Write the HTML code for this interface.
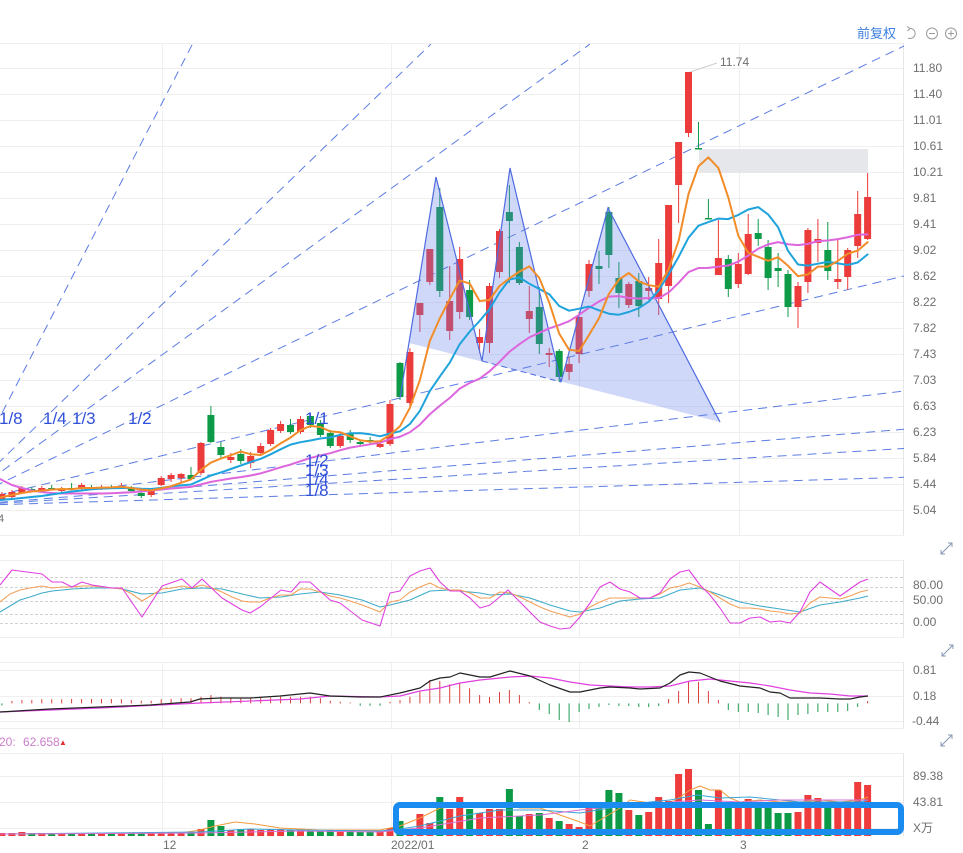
<!DOCTYPE html>
<html><head><meta charset="utf-8"><style>
html,body{margin:0;padding:0;background:#fff;}
svg{display:block;font-family:"Liberation Sans","Noto Sans CJK SC",sans-serif;}
</style></head><body>
<svg width="963" height="853" viewBox="0 0 963 853" xmlns="http://www.w3.org/2000/svg">
<defs>
<clipPath id="cm"><rect x="0" y="44" width="904" height="491"/></clipPath>
<clipPath id="cp"><rect x="0" y="0" width="904" height="853"/></clipPath>
</defs>
<rect width="963" height="853" fill="#fff"/>

<!-- top toolbar -->
<text x="857" y="38" font-size="13" fill="#3d7fe0">前复权</text>
<path d="M910 28.5 A5 5 0 1 1 908 38" stroke="#9a9a9a" fill="none" stroke-width="1"/>
<path d="M910 28.5 l-3 -2 M910 28.5 l-2.5 2.5" stroke="#9a9a9a" fill="none"/>
<circle cx="932" cy="33.5" r="5.5" stroke="#9a9a9a" fill="none"/><path d="M929 33.5h6" stroke="#9a9a9a"/>
<circle cx="951" cy="33.5" r="5.5" stroke="#9a9a9a" fill="none"/><path d="M948 33.5h6M951 30.5v6" stroke="#9a9a9a"/>

<!-- main grid -->
<g stroke="#efefef" stroke-width="1" fill="none">
<path d="M0 43.5H904M0 68.5H904M0 94.5H904M0 120.5H904M0 146.5H904M0 172.5H904M0 198.5H904M0 224.5H904M0 250.5H904M0 276.5H904M0 302.5H904M0 328.5H904M0 354.5H904M0 380.5H904M0 406.5H904M0 432.5H904M0 458.5H904M0 484.5H904M0 510.5H904M0 535.5H904"/>
<path d="M162.5 43V535M391.5 43V535M579.5 43V535M739.5 43V535"/>
<path d="M0 560.5H904M0 637.5H904M162.5 560V637M391.5 560V637M579.5 560V637M739.5 560V637"/>
<path d="M0 662.5H904M0 670.5H904M0 696.5H904M0 721.5H904M0 728.5H904M162.5 662V728M391.5 662V728M579.5 662V728M739.5 662V728"/>
<path d="M0 753.5H904M0 776.5H904M0 802.5H904M0 828.5H904M162.5 753V836M391.5 753V836M579.5 753V836M739.5 753V836"/>
</g>
<g stroke="#d2d2d2" stroke-dasharray="3,2" fill="none">
<path d="M0 577.5H904M0 587.5H904M0 601.5H904M0 614.5H904M0 623.5H904"/>
</g>
<path d="M903.5 43V535M903.5 560V637M903.5 662V728M903.5 753V836" stroke="#e6e6e6"/>

<!-- main y labels -->
<g font-size="12" fill="#6e6e6e">
<text x="913" y="72">11.80</text><text x="913" y="98">11.40</text><text x="913" y="124">11.01</text><text x="913" y="150">10.61</text><text x="913" y="176">10.21</text><text x="913" y="202">9.81</text><text x="913" y="228">9.41</text><text x="913" y="254">9.02</text><text x="913" y="280">8.62</text><text x="913" y="306">8.22</text><text x="913" y="332">7.82</text><text x="913" y="358">7.43</text><text x="913" y="384">7.03</text><text x="913" y="410">6.63</text><text x="913" y="436">6.23</text><text x="913" y="462">5.84</text><text x="913" y="488">5.44</text><text x="913" y="514">5.04</text>
<text x="913" y="589">80.00</text><text x="913" y="604">50.00</text><text x="913" y="626">0.00</text>
<text x="913" y="674">0.81</text><text x="913" y="700">0.18</text><text x="912" y="725">-0.44</text>
<text x="913" y="780">89.38</text><text x="913" y="806">43.81</text><text x="913" y="832">X万</text>
<text x="163" y="849">12</text><text x="391" y="849">2022/01</text><text x="582" y="849">2</text><text x="740" y="849">3</text>
<text x="720" y="66">11.74</text>
<text x="-2" y="522" font-size="11">4</text>
</g>
<path d="M690 72 L717 63" stroke="#cfcfcf"/>

<!-- expand icons -->
<g stroke="#8797b3" fill="none" stroke-width="1">
<path d="M941 554L952 543M948 543h4v4M941 550v4h4"/>
<path d="M942 656L953 645M949 645h4v4M942 652v4h4"/>
<path d="M941 746L952 735M948 735h4v4M941 742v4h4"/>
</g>

<g clip-path="url(#cm)">
<!-- gann fan -->
<g stroke="#4a6ee0" stroke-width="1" stroke-dasharray="9,6" fill="none" opacity="0.9">
<path d="M-46 506L192.5 44"/>
<path d="M-46 506L431 44"/>
<path d="M-46 506L590 44"/>
<path d="M-46 506L904 46"/>
<path d="M-46 506L904 276"/>
<path d="M-46 506L904 391"/>
<path d="M-46 506L904 429.3"/>
<path d="M-46 506L904 448.5"/>
<path d="M-46 506L904 477.3"/>
</g>

<!-- gray rect -->
<rect x="699" y="149" width="169" height="24" fill="#e5e7eb"/>

<!-- candles red -->
<path fill="none" stroke="#eb3b3b" stroke-width="1" d="M1.9 492V500M11.9 490V498M21.9 486V494M41.8 486V491M61.7 487V492M81.6 483V490M101.5 485V490M121.4 483V489M151.2 489V497M161.2 476V486M171.1 473V482M181.1 473V482M201 442V475M230.8 453V463M250.7 452V468M260.7 443V456M270.6 428V446M280.6 421V433M300.5 416V434M340.3 433V448M380.1 443V448M390 400V446M409.9 348V406M419.9 303V332M429.8 249V285M449.7 266V340M459.7 247V319M479.6 329V353M489.5 283V353M499.5 229V278M529.3 286V333M549.2 348V367M569.1 357V380M579.1 312V363M589 260V297M628.8 282V308M648.7 277V300M658.7 239V315M668.6 205V303M678.6 142V223M688.5 72V137M718.4 220V275M738.3 253V288M748.2 214V275M798 282V328M807.9 228V293M817.9 219V262M837.8 240V289M847.7 248V290M857.7 191V258M867.6 173V240"/>
<path fill="#eb3b3b" d="M-1.6 494h7v5h-7zM8.4 492h7v5h-7zM18.4 488h7v5h-7zM38.3 488h7v2h-7zM58.2 489h7v2h-7zM78.1 485h7v3h-7zM98 487h7v2h-7zM117.9 486h7v2h-7zM147.7 491h7v4h-7zM157.7 478h7v7h-7zM167.6 475h7v4h-7zM177.6 474h7v4h-7zM197.5 443h7v30h-7zM227.3 457h7v3h-7zM247.2 456h7v7h-7zM257.2 446h7v7h-7zM267.1 430h7v14h-7zM277.1 424h7v7h-7zM297 419h7v13h-7zM336.8 436h7v10h-7zM376.6 444h7v3h-7zM386.5 404h7v40h-7zM406.4 352h7v51h-7zM416.4 303h7v12h-7zM426.3 249h7v33h-7zM446.2 301h7v30h-7zM456.2 259h7v53h-7zM476.1 337h7v6h-7zM486 286h7v57h-7zM496 231h7v41h-7zM525.8 311h7v8h-7zM545.7 353h7v2h-7zM565.6 364h7v8h-7zM575.6 317h7v37h-7zM585.5 264h7v27h-7zM625.3 284h7v21h-7zM645.2 288h7v3h-7zM655.2 263h7v36h-7zM665.1 205h7v81h-7zM675.1 142h7v43h-7zM685 72h7v61h-7zM714.9 258h7v17h-7zM734.8 264h7v20h-7zM744.7 234h7v40h-7zM794.5 286h7v21h-7zM804.4 230h7v52h-7zM814.4 239h7v4h-7zM834.3 279h7v3h-7zM844.2 250h7v27h-7zM854.2 214h7v32h-7zM864.1 197h7v42h-7z"/>
<!-- candles green -->
<path fill="none" stroke="#0e9b48" stroke-width="1" d="M31.8 487V492M51.7 485V490M71.6 483V490M91.5 485V489M111.4 485V489M131.3 486V492M141.3 491V498M191 467V480M210.9 406V443M220.9 442V458M240.8 449V464M290.5 419V434M310.4 413V428M320.4 420V437M330.3 430V448M350.2 430V443M360.2 440V446M370.1 437V444M400 362V400M439.8 188V297M469.6 280V320M509.4 185V283M519.4 242V285M539.3 287V354M559.2 349V382M599 251V284M608.9 207V268M618.9 262V308M638.8 273V317M698.5 122V149M708.4 199V219M728.3 255V297M758.2 219V246M768.1 240V290M778.1 253V287M788 270V317M827.8 222V280"/>
<path fill="#0e9b48" d="M28.3 489h7v2h-7zM48.2 488h7v1.5h-7zM68.1 488h7v1.5h-7zM88 487h7v1.5h-7zM107.9 487h7v1.5h-7zM127.8 488h7v3h-7zM137.8 493h7v3h-7zM187.5 475h7v4h-7zM207.4 415h7v27h-7zM217.4 447h7v8h-7zM237.3 454h7v7h-7zM287 425h7v7h-7zM306.9 416h7v9h-7zM316.9 423h7v12h-7zM326.8 433h7v13h-7zM346.7 434h7v6h-7zM356.7 442h7v2h-7zM366.6 440h7v2h-7zM396.5 363h7v34h-7zM436.3 207h7v84h-7zM466.1 290h7v27h-7zM505.9 212h7v9h-7zM515.9 247h7v36h-7zM535.8 307h7v37h-7zM555.7 351h7v26h-7zM595.5 266h7v3h-7zM605.4 212h7v43h-7zM615.4 278h7v15h-7zM635.3 281h7v25h-7zM695 148h7v1.5h-7zM704.9 218h7v1.5h-7zM724.8 259h7v30h-7zM754.7 233h7v6h-7zM764.6 247h7v31h-7zM774.6 268h7v3h-7zM784.5 274h7v33h-7zM824.3 250h7v21h-7z"/>

<!-- pattern -->
<path d="M409 343 L436 177 L482 361 L510 168 L561 382 L608 208 L720 422 Z" fill="rgb(100,125,235)" fill-opacity="0.3"/>
<path d="M400 398 L436 177 L482 361 L510 168 L561 382 L608 208 L720 422" fill="none" stroke="#4e6be0" stroke-width="1.2"/>
<path d="M482 361 L561 382" fill="none" stroke="#4e6be0" stroke-width="1" stroke-dasharray="6,4"/>

<!-- MAs -->
<g fill="none" stroke-width="2" stroke-linejoin="round" stroke-linecap="round">
<polyline stroke="#dd66dd" points="0,479 11.9,485 21.9,488 31.8,490.5 41.8,492 51.7,493 61.7,493.5 71.6,493.5 81.6,493.5 91.5,493.5 101.5,493.5 111.4,493.2 121.4,492.8 131.3,492.3 141.3,491.5 151.2,490.5 161.2,489.5 171.1,488.5 181.1,487.7 191,486.9 201,484.35 210.9,481.85 220.9,480.2 230.8,478.5 240.8,477.15 250.7,475.5 260.7,473.35 270.6,470.4 280.6,467.35 290.5,464.55 300.5,461.15 310.4,458 320.4,455.45 330.3,453.2 340.3,450.2 350.2,447.65 360.2,445.95 370.1,444.3 380.1,442.8 390,439.05 400,436.75 409.9,432.25 419.9,424.65 429.8,414.25 439.8,405.75 449.7,398 459.7,388.65 469.6,383 479.6,378.65 489.5,371.35 499.5,361.95 509.4,351.75 519.4,344.15 529.3,337.4 539.3,332.8 549.2,328.45 559.2,325.1 569.1,321.2 579.1,314.85 589,307.85 599,301.45 608.9,296.6 618.9,296.1 628.8,297.85 638.8,298.6 648.7,297.95 658.7,298.15 668.6,292.55 678.6,282.8 688.5,272.1 698.5,268 708.4,267.9 718.4,266.65 728.3,265.55 738.3,261.55 748.2,255.6 758.2,248.7 768.1,244.4 778.1,242.1 788,244.25 798,245.1 807.9,243.85 817.9,241.15 827.8,240.5 837.8,239.15 847.7,237.25 857.7,234.8 867.6,234.4"/>
<polyline stroke="#1fa3dc" points="0,500 11.9,499 21.9,498 31.8,497 41.8,496 51.7,494.5 61.7,493 71.6,491.5 81.6,490.5 91.5,489.3 101.5,488.6 111.4,488.2 121.4,488 131.3,488 141.3,488.8 151.2,489 161.2,487.9 171.1,486.5 181.1,485.4 191,484.5 201,480.1 210.9,475.5 220.9,472.4 230.8,469 240.8,465.5 250.7,462 260.7,458.8 270.6,454.3 280.6,449.3 290.5,444.6 300.5,442.2 310.4,440.5 320.4,438.5 330.3,437.4 340.3,434.9 350.2,433.3 360.2,433.1 370.1,434.3 380.1,436.3 390,433.5 400,431.3 409.9,424 419.9,410.8 429.8,391.1 439.8,376.6 449.7,362.7 459.7,344.2 469.6,331.7 479.6,321 489.5,309.2 499.5,292.6 509.4,279.5 519.4,277.5 529.3,283.7 539.3,289 549.2,294.2 559.2,306 569.1,310.7 579.1,308.7 589,306.5 599,310.3 608.9,313.7 618.9,314.7 628.8,312 638.8,308.2 648.7,301.7 658.7,290.3 668.6,274.4 678.6,256.9 688.5,237.7 698.5,225.7 708.4,222.1 718.4,218.6 728.3,219.1 738.3,214.9 748.2,209.5 758.2,207.1 768.1,214.4 778.1,227.3 788,250.8 798,264.5 807.9,265.6 817.9,263.7 827.8,261.9 837.8,263.4 847.7,265 857.7,262.5 867.6,254.4"/>
<polyline stroke="#f28c28" points="0,497.5 11.9,495 21.9,493 31.8,491.5 41.8,490.6 51.7,489.6 61.7,489 71.6,489.2 81.6,488 91.5,488 101.5,487.6 111.4,487.4 121.4,486.8 131.3,488 141.3,489.6 151.2,490.4 161.2,488.4 171.1,486.2 181.1,482.8 191,479.4 201,469.8 210.9,462.6 220.9,458.6 230.8,455.2 240.8,451.6 250.7,454.2 260.7,455 270.6,450 280.6,443.4 290.5,437.6 300.5,430.2 310.4,426 320.4,427 330.3,431.4 340.3,432.2 350.2,436.4 360.2,440.2 370.1,441.6 380.1,441.2 390,434.8 400,426.2 409.9,407.8 419.9,380 429.8,341 439.8,318.4 449.7,299.2 459.7,280.6 469.6,283.4 479.6,301 489.5,300 499.5,286 509.4,278.4 519.4,271.6 529.3,266.4 539.3,278 549.2,302.4 559.2,333.6 569.1,349.8 579.1,351 589,335 599,318.2 608.9,293.8 618.9,279.6 628.8,273 638.8,281.4 648.7,285.2 658.7,286.8 668.6,269.2 678.6,240.8 688.5,194 698.5,166.2 708.4,157.4 718.4,168 728.3,197.4 738.3,235.8 748.2,252.8 758.2,256.8 768.1,260.8 778.1,257.2 788,265.8 798,276.2 807.9,274.4 817.9,266.6 827.8,266.6 837.8,261 847.7,253.8 857.7,250.6 867.6,242.2"/>
</g>

<!-- fan labels -->
<g font-size="17" fill="#2f50d8">
<text x="-1" y="424">1/8</text>
<text x="43" y="424">1/4</text>
<text x="72" y="424">1/3</text>
<text x="128" y="424">1/2</text>
<text x="305" y="424">1/1</text>
<text x="305" y="466">1/2</text>
<text x="305" y="476">1/3</text>
<text x="305" y="485">1/4</text>
<text x="305" y="496">1/8</text>
</g>
</g>

<!-- KDJ -->
<g clip-path="url(#cp)" fill="none" stroke-width="1.1" stroke-linejoin="round">
<polyline stroke="#3eabc9" points="0,612 10,606 20,600 30,597 42,593 52,591 72,589 92,588 112,588 122,589 142,594 162,593 182,589 202,588 222,589 242,594 260,598 281,597 300,594 320,592 340,595 362,600 380,607 390,605 410,600 430,591 450,590 470,592 480,593 490,595 510,594 530,598 550,605 570,611 580,612 600,608 620,601 640,599 660,598 680,590 700,588 720,595 740,602 760,606 780,609 800,612 820,605 840,602 860,598 868,596"/>
<polyline stroke="#f2a05a" points="0,602 10,594 20,590 30,588 42,586 52,588 62,587 72,587 82,586 92,586 102,587 112,588 122,589 132,594 142,601 152,595 162,589 172,588 182,586 192,588 202,585 212,588 222,592 232,597 242,601 250,602 260,602 270,598 281,595 291,595 300,589 310,589 320,592 330,596 340,598 350,601 362,605 370,608 380,612 390,602 400,600 410,592 420,587 430,583 440,588 450,590 460,590 470,593 480,598 490,598 500,592 510,593 520,597 530,602 540,607 550,611 560,614 570,617 580,614 590,607 600,602 610,598 620,598 630,598 640,598 650,598 660,594 670,588 680,586 689,583 700,587 710,592 720,598 730,604 740,608 750,608 760,609 770,611 780,612 790,614 800,613 810,603 820,597 830,598 840,599 850,596 860,592 868,590"/>
<polyline stroke="#e040e0" points="0,585 12,570 42,574 52,582 62,582 72,587 82,582 92,585 112,588 122,588 142,617 162,586 182,579 192,588 202,579 222,598 242,610 250,613 260,607 281,590 291,592 300,582 310,582 330,600 340,603 362,620 380,626 390,593 400,591 410,576 420,571 430,568 440,582 450,591 460,591 470,598 480,608 490,605 508,590 520,602 540,622 550,626 560,629 570,628 580,617 590,603 600,587 610,582 620,589 630,592 640,598 650,598 660,593 670,579 680,572 689,570 700,585 710,595 720,608 730,623 740,623 750,618 760,617 770,622 780,621 790,623 800,612 810,592 820,582 830,589 840,596 850,589 860,582 868,579"/>
</g>

<!-- MACD hist -->
<path stroke="#d8403c" stroke-width="1" fill="none" d="M11.9 703.4V701M21.9 703.4V700M31.8 703.4V700M41.8 703.4V699.3M51.7 703.4V699.3M61.7 703.4V699.3M71.6 703.4V699M81.6 703.4V699M91.5 703.4V699M101.5 703.4V699M111.4 703.4V699M121.4 703.4V699.3M131.3 703.4V700M141.3 703.4V700.7M151.2 703.4V700.7M161.2 703.4V699.3M171.1 703.4V699M181.1 703.4V698.3M191 703.4V698.3M201 703.4V696.7M210.9 703.4V695M220.9 703.4V696.7M230.8 703.4V697.7M240.8 703.4V697.7M250.7 703.4V697.7M260.7 703.4V697.7M270.6 703.4V697.7M280.6 703.4V696.7M290.5 703.4V696.7M300.5 703.4V696.7M310.4 703.4V696.7M320.4 703.4V698.3M330.3 703.4V700.7M340.3 703.4V701.7M350.2 703.4V702.5M390 703.4V701.7M400 703.4V700M409.9 703.4V696.7M419.9 703.4V691.7M429.8 703.4V680M439.8 703.4V681M449.7 703.4V684.3M459.7 703.4V683.3M469.6 703.4V688.3M479.6 703.4V695M489.5 703.4V697M499.5 703.4V692M509.4 703.4V690M519.4 703.4V695M529.3 703.4V702M668.6 703.4V699M678.6 703.4V691M688.5 703.4V682M698.5 703.4V682M708.4 703.4V691M718.4 703.4V700M867.6 703.4V701"/>
<path stroke="#1e9a4f" stroke-width="1" fill="none" d="M1.9 703.4V705.5M360.2 703.4V705.7M370.1 703.4V705.7M380.1 703.4V705.7M539.3 703.4V710M549.2 703.4V714M559.2 703.4V720M569.1 703.4V722M579.1 703.4V712M589 703.4V709M599 703.4V707M608.9 703.4V705M618.9 703.4V706M628.8 703.4V706M638.8 703.4V707M648.7 703.4V707M658.7 703.4V706M728.3 703.4V710M738.3 703.4V712M748.2 703.4V712M758.2 703.4V713M768.1 703.4V715M778.1 703.4V717M788 703.4V720M798 703.4V715M807.9 703.4V714M817.9 703.4V712M827.8 703.4V712M837.8 703.4V712M847.7 703.4V711M857.7 703.4V707"/>
<g fill="none" stroke-width="1.2" stroke-linejoin="round">
<polyline stroke="#e040e0" points="0,712 100,708 200,703 300,699 330,696 380,697 400,696 420,691 440,688 460,683 480,680 510,677 530,676 550,678 570,682 590,685 610,686 630,687 650,687 670,686 690,681 710,679 730,681 750,683 770,686 790,690 810,693 830,694 850,696 868,696"/>
<polyline stroke="#222" points="0,712 50,709 100,707 150,705 190,702 200,699 220,698 250,698 280,696 310,693 330,696 360,697 380,697 400,693 420,688 430,681 440,678 450,677 460,673 470,675 480,677 490,677 510,671 530,676 550,685 570,692 580,692 600,688 610,687 630,688 640,689 660,688 670,683 680,675 689,672 700,673 710,677 720,681 740,686 760,688 770,692 780,693 790,698 800,698 820,698 840,699 850,699 860,697 868,696"/>
</g>

<!-- volume -->
<g font-size="12">
<text x="-1" y="746" fill="#c97ec9">20:</text>
<text x="23" y="746" fill="#c97ec9">62.658</text>
<text x="59" y="745" fill="#e03030" font-size="8">▲</text>
</g>
<path fill="#ee3b3b" d="M-1.6 833h7V836h-7zM8.4 833h7V836h-7zM18.4 832h7V836h-7zM38.3 833h7V836h-7zM58.2 833h7V836h-7zM78.1 833h7V836h-7zM98 833h7V836h-7zM117.9 833h7V836h-7zM147.7 832h7V836h-7zM157.7 832h7V836h-7zM167.6 832h7V836h-7zM177.6 833h7V836h-7zM197.5 829h7V836h-7zM227.3 830h7V836h-7zM247.2 829h7V836h-7zM257.2 830h7V836h-7zM267.1 829h7V836h-7zM277.1 829h7V836h-7zM297 830h7V836h-7zM336.8 831h7V836h-7zM376.6 831h7V836h-7zM386.5 828h7V836h-7zM406.4 829h7V836h-7zM416.4 814h7V836h-7zM426.3 823h7V836h-7zM446.2 809h7V836h-7zM456.2 797h7V836h-7zM476.1 813h7V836h-7zM486 809h7V836h-7zM496 809h7V836h-7zM525.8 814h7V836h-7zM545.7 818h7V836h-7zM565.6 824h7V836h-7zM575.6 827h7V836h-7zM585.5 802h7V836h-7zM625.3 810h7V836h-7zM645.2 812h7V836h-7zM655.2 797h7V836h-7zM665.1 801h7V836h-7zM675.1 774h7V836h-7zM685 769h7V836h-7zM714.9 790h7V836h-7zM734.8 805h7V836h-7zM744.7 799h7V836h-7zM794.5 812h7V836h-7zM804.4 795h7V836h-7zM814.4 798h7V836h-7zM834.3 805h7V836h-7zM844.2 805h7V836h-7zM854.2 782h7V836h-7zM864.1 785h7V836h-7z"/>
<path fill="#0d9a47" d="M28.3 833h7V836h-7zM48.2 833h7V836h-7zM68.1 833h7V836h-7zM88 833h7V836h-7zM107.9 833h7V836h-7zM127.8 833h7V836h-7zM137.8 833h7V836h-7zM187.5 832h7V836h-7zM207.4 820h7V836h-7zM217.4 826h7V836h-7zM237.3 829h7V836h-7zM287 830h7V836h-7zM306.9 831h7V836h-7zM316.9 831h7V836h-7zM326.8 830h7V836h-7zM346.7 831h7V836h-7zM356.7 832h7V836h-7zM366.6 832h7V836h-7zM396.5 821h7V836h-7zM436.3 797h7V836h-7zM466.1 809h7V836h-7zM505.9 789h7V836h-7zM515.9 816h7V836h-7zM535.8 813h7V836h-7zM555.7 821h7V836h-7zM595.5 807h7V836h-7zM605.4 790h7V836h-7zM615.4 793h7V836h-7zM635.3 815h7V836h-7zM695 790h7V836h-7zM704.9 824h7V836h-7zM724.8 807h7V836h-7zM754.7 807h7V836h-7zM764.6 807h7V836h-7zM774.6 813h7V836h-7zM784.5 813h7V836h-7zM824.3 805h7V836h-7z"/>
<g fill="none" stroke-width="1" stroke-linejoin="round">
<polyline stroke="#f29a3c" points="0,834 180,833 200,830 215,826 235,822 255,824 280,828 320,830 380,830 400,826 420,818 440,808 460,806 480,806 500,803 520,808 540,808 560,815 580,822 590,826 600,820 620,808 630,800 650,803 670,803 680,797 690,790 700,786 710,790 720,790 730,798 740,802 760,800 780,802 800,802 820,800 840,802 860,800 868,797"/>
<polyline stroke="#3aa6d6" points="0,834 200,832 250,829 300,830 380,831 400,829 420,826 460,816 500,810 540,810 580,813 610,808 640,803 670,800 697,795 720,798 750,797 780,800 800,802 860,802 868,800"/>
<polyline stroke="#d870d8" points="0,834 200,833 300,831 380,832 420,828 480,818 540,815 580,810 620,806 660,803 700,800 740,802 780,800 868,800"/>
</g>
<rect x="396" y="805" width="505" height="27" rx="4" ry="4" fill="none" stroke="#1a8cf0" stroke-width="6"/>
</svg>
</body></html>
